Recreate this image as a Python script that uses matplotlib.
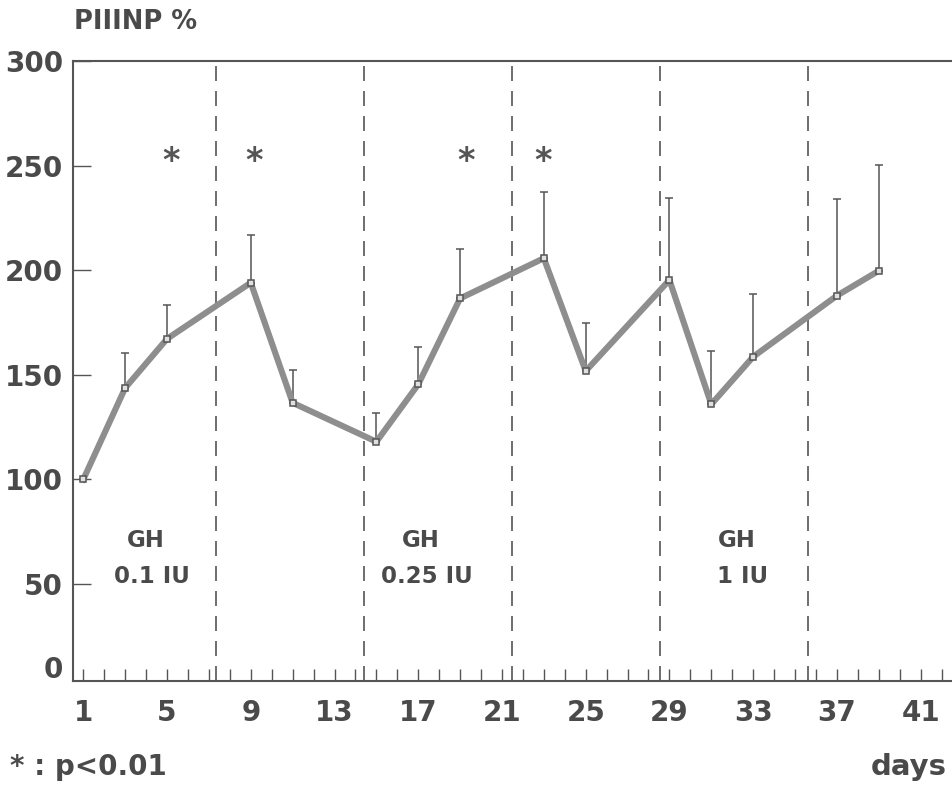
import matplotlib
matplotlib.use("Agg")
import matplotlib.pyplot as plt
import numpy as np

# ---- data ----
days = [1, 3, 5, 9, 11, 15, 17, 19, 23, 25, 29, 31, 33, 37, 39]
piiinp_mean = [100, 143.7, 167.2, 194.0, 136.6, 118.0, 145.4, 186.5, 205.7,
               151.8, 195.3, 135.9, 158.6, 187.8, 199.7]
piiinp_sd = [0, 16.5, 16.0, 23.0, 15.7, 13.6, 18.0, 23.8, 31.8,
             22.8, 39.3, 25.6, 30.0, 46.1, 50.4]
star_days = [5.2, 9.15, 19.3, 22.95]
star_level = 252
week_bounds = [7.35, 14.4, 21.5, 28.57, 35.63]
ytick_vals = [50, 100, 150, 200, 250, 300]
xtick_labels = [1, 5, 9, 13, 17, 21, 25, 29, 33, 37, 41]
dose_labels = [("GH", "0.1 IU"), ("GH", "0.25 IU"), ("GH", "1 IU")]
dose_x = [(4.0, 4.3), (17.1, 17.4), (32.2, 32.5)]

TXT = "#4a4a4a"
plt.rcParams['font.family'] = ['DejaVu Sans']

fig = plt.figure(figsize=(9.52, 7.93), dpi=100)
ax = fig.add_axes([0.0764, 0.1412, 1 - 0.0764, 0.9231 - 0.1412])
ax.set_xlim(0.494, 42.5)
ax.set_ylim(3.6, 300)

for s in ['top', 'left', 'bottom']:
    ax.spines[s].set_color('#555555')
    ax.spines[s].set_linewidth(1.5)
ax.spines['right'].set_visible(False)

# week boundaries
for xb in week_bounds:
    ax.axvline(xb, color='#555555', lw=1.2, dashes=(9, 6), zorder=1)

# error bars (upward only)
lower = np.zeros(len(piiinp_sd))
ax.errorbar(days, piiinp_mean, yerr=[lower, piiinp_sd], fmt='none',
            ecolor='#555555', elinewidth=1.1, capsize=2.8, capthick=1.1, zorder=2)
ax.plot(days, piiinp_mean, color='#8e8e8e', lw=4.4, zorder=3,
        solid_joinstyle='round')
ax.plot(days, piiinp_mean, ls='none', marker='s', ms=5, mfc='#e0e0e0',
        mec='#555555', mew=1.1, zorder=4)

# significance stars
for sx in star_days:
    ax.text(sx, star_level, "*", ha='center', va='center', fontsize=24,
            fontweight='bold', color='#555555')

# dose labels
for (l1, l2), (x1, x2) in zip(dose_labels, dose_x):
    ax.text(x1, 71, l1, ha='center', va='center', fontsize=16.5,
            fontweight='bold', color=TXT)
    ax.text(x2, 53.5, l2, ha='center', va='center', fontsize=16.5,
            fontweight='bold', color=TXT)

# ticks
ax.set_yticks(ytick_vals)
ax.set_yticklabels([str(v) for v in ytick_vals])
ax.tick_params(axis='y', direction='in', length=13, width=1, color='#555555',
               pad=7, labelsize=20, labelcolor=TXT)
for lab in ax.get_yticklabels():
    lab.set_fontweight('bold')
ax.annotate("0", xy=(0, 9), xycoords=('axes fraction', 'data'),
            xytext=(-7, 0), textcoords='offset points', ha='right', va='center',
            fontsize=20, fontweight='bold', color=TXT)

ax.set_xticks(np.arange(1, 43))
ax.set_xticklabels([str(d) if d in xtick_labels else "" for d in range(1, 43)])
ax.tick_params(axis='x', direction='in', length=8.5, width=1, color='#555555',
               pad=13, labelsize=20, labelcolor=TXT)
for lab in ax.get_xticklabels():
    lab.set_fontweight('bold')

fig.text(74 / 952, 1 - 22 / 793, "PIIINP %", ha='left', va='center',
         fontsize=18.5, fontweight='bold', color=TXT)
fig.text(10 / 952, 1 - 767 / 793, "* : p<0.01", ha='left', va='center',
         fontsize=20, fontweight='bold', color=TXT)
fig.text(947 / 952, 1 - 767 / 793, "days", ha='right', va='center',
         fontsize=21, fontweight='bold', color=TXT)

fig.savefig("out.png", dpi=100)
